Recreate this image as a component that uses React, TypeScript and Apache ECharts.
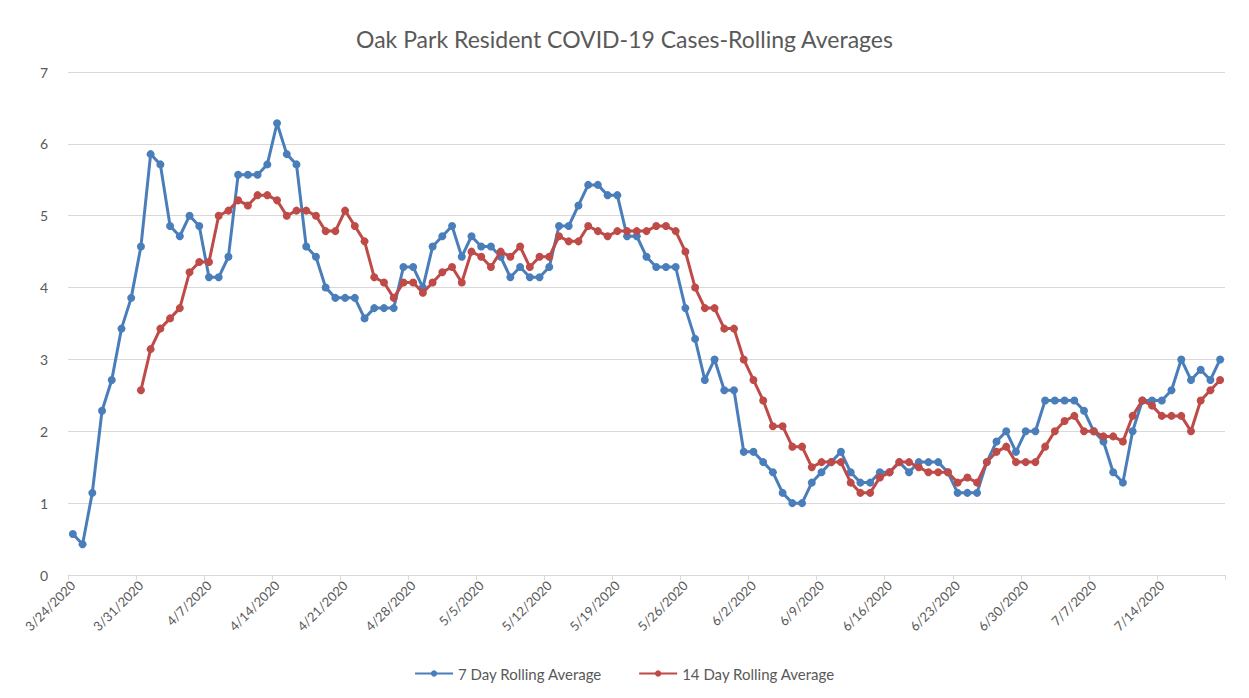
import React, { useEffect, useRef } from "react";
import * as echarts from "echarts";

const TITLE = "Oak Park Resident COVID-19 Cases-Rolling Averages";
const START_DATE = { year: 2020, month: 3, day: 24 };
const DAY_COUNT = 119;
const SERIES_NAMES = ["7 Day Rolling Average", "14 Day Rolling Average"];
const Y_TICKS = [0, 1, 2, 3, 4, 5, 6, 7];

const sevenDay: number[] = [
  0.571, 0.429, 1.143, 2.286, 2.714, 3.429, 3.857, 4.571, 5.857, 5.714,
  4.857, 4.714, 5.0, 4.857, 4.143, 4.143, 4.429, 5.571, 5.571, 5.571,
  5.714, 6.286, 5.857, 5.714, 4.571, 4.429, 4.0, 3.857, 3.857, 3.857,
  3.571, 3.714, 3.714, 3.714, 4.286, 4.286, 4.0, 4.571, 4.714, 4.857,
  4.429, 4.714, 4.571, 4.571, 4.429, 4.143, 4.286, 4.143, 4.143, 4.286,
  4.857, 4.857, 5.143, 5.429, 5.429, 5.286, 5.286, 4.714, 4.714, 4.429,
  4.286, 4.286, 4.286, 3.714, 3.286, 2.714, 3.0, 2.571, 2.571, 1.714,
  1.714, 1.571, 1.429, 1.143, 1.0, 1.0, 1.286, 1.429, 1.571, 1.714,
  1.429, 1.286, 1.286, 1.429, 1.429, 1.571, 1.429, 1.571, 1.571, 1.571,
  1.429, 1.143, 1.143, 1.143, 1.571, 1.857, 2.0, 1.714, 2.0, 2.0,
  2.429, 2.429, 2.429, 2.429, 2.286, 2.0, 1.857, 1.429, 1.286, 2.0,
  2.429, 2.429, 2.429, 2.571, 3.0, 2.714, 2.857, 2.714, 3.0,
];

const fourteenDay: (number | null)[] = [
  null, null, null, null, null, null, null, 2.571, 3.143, 3.429,
  3.571, 3.714, 4.214, 4.357, 4.357, 5.0, 5.071, 5.214, 5.143, 5.286,
  5.286, 5.214, 5.0, 5.071, 5.071, 5.0, 4.786, 4.786, 5.071, 4.857,
  4.643, 4.143, 4.071, 3.857, 4.071, 4.071, 3.929, 4.071, 4.214, 4.286,
  4.071, 4.5, 4.429, 4.286, 4.5, 4.429, 4.571, 4.286, 4.429, 4.429,
  4.714, 4.643, 4.643, 4.857, 4.786, 4.714, 4.786, 4.786, 4.786, 4.786,
  4.857, 4.857, 4.786, 4.5, 4.0, 3.714, 3.714, 3.429, 3.429, 3.0,
  2.714, 2.429, 2.071, 2.071, 1.786, 1.786, 1.5, 1.571, 1.571, 1.571,
  1.286, 1.143, 1.143, 1.357, 1.429, 1.571, 1.571, 1.5, 1.429, 1.429,
  1.429, 1.286, 1.357, 1.286, 1.571, 1.714, 1.786, 1.571, 1.571, 1.571,
  1.786, 2.0, 2.143, 2.214, 2.0, 2.0, 1.929, 1.929, 1.857, 2.214,
  2.429, 2.357, 2.214, 2.214, 2.214, 2.0, 2.429, 2.571, 2.714,
];

function buildDates(): string[] {
  const out: string[] = [];
  const base = new Date(START_DATE.year, START_DATE.month - 1, START_DATE.day);
  for (let i = 0; i < DAY_COUNT; i++) {
    const d = new Date(base.getFullYear(), base.getMonth(), base.getDate() + i);
    out.push(`${d.getMonth() + 1}/${d.getDate()}/${d.getFullYear()}`);
  }
  return out;
}

const categories = buildDates();

const FONT = "Lato, 'Open Sans', sans-serif";
const TEXT = "#595959";
const GRID = "#d9d9d9";
const BLUE = "#4a7ebb";
const RED = "#be4b48";

export default function App() {
  const ref = useRef<HTMLDivElement>(null);

  useEffect(() => {
    if (!ref.current) return;
    const chart = echarts.init(ref.current, undefined, { renderer: "svg" });
    chart.setOption({
      animation: false,
      backgroundColor: "#ffffff",
      title: {
        text: TITLE,
        left: "center",
        top: 22,
        textStyle: { color: TEXT, fontFamily: FONT, fontSize: 23, fontWeight: "normal" },
      },
      legend: {
        bottom: 12,
        left: "center",
        itemWidth: 38,
        itemHeight: 8,
        itemGap: 36,
        textStyle: { color: TEXT, fontFamily: FONT, fontSize: 15 },
        data: SERIES_NAMES,
      },
      grid: { left: 68, right: 24, top: 72, bottom: 123, containLabel: false },
      xAxis: {
        type: "category",
        data: categories,
        boundaryGap: true,
        axisLine: { lineStyle: { color: GRID, width: 1 } },
        axisTick: { show: true, interval: 6, length: 5, lineStyle: { color: GRID } },
        axisLabel: {
          interval: 6,
          rotate: 45,
          color: TEXT,
          fontFamily: FONT,
          fontSize: 13,
          margin: 8,
        },
        splitLine: { show: false },
      },
      yAxis: {
        type: "value",
        min: Y_TICKS[0],
        max: Y_TICKS[Y_TICKS.length - 1],
        interval: 1,
        axisLine: { show: false },
        axisTick: { show: false },
        axisLabel: { color: TEXT, fontFamily: FONT, fontSize: 14, margin: 20 },
        splitLine: { lineStyle: { color: GRID, width: 1 } },
      },
      series: [
        {
          name: SERIES_NAMES[0],
          type: "line",
          data: sevenDay,
          symbol: "circle",
          symbolSize: 8,
          showAllSymbol: true,
          itemStyle: { color: BLUE },
          lineStyle: { color: BLUE, width: 3 },
          z: 2,
        },
        {
          name: SERIES_NAMES[1],
          type: "line",
          data: fourteenDay,
          symbol: "circle",
          symbolSize: 8,
          showAllSymbol: true,
          itemStyle: { color: RED },
          lineStyle: { color: RED, width: 3 },
          z: 3,
        },
      ],
    });
    return () => chart.dispose();
  }, []);

  return (
    <div
      ref={ref}
      style={{ position: "fixed", left: 0, top: 0, width: 1249, height: 698 }}
    />
  );
}
